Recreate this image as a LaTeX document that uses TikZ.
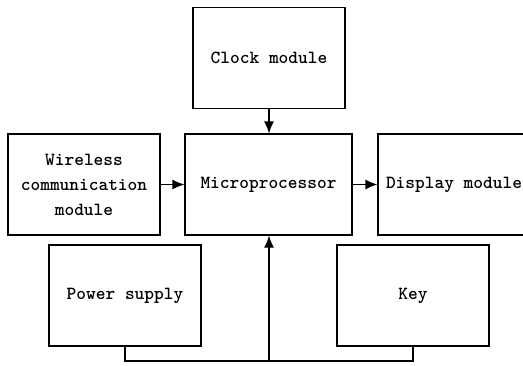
\documentclass[tikz,border=0pt]{standalone}
\usetikzlibrary{arrows.meta}
\tikzset{
	blk/.style={draw, line width=1.2pt, minimum width=152pt, minimum height=101pt, align=center, inner sep=0pt,
		font=\ttfamily\bfseries\fontsize{18.5}{25}\selectfont},
	arr/.style={line width=1.2pt, -{Latex[length=12pt,width=10pt]}}
}
\begin{document}
\begin{tikzpicture}[x=1pt,y=-1pt]
			%%%%% START %%%%%
			\useasboundingbox (0,0) rectangle (523,365);
			
			\node[blk] (clock) at (269, 58) {Clock module};
			\node[blk] (wireless) at (84, 184.5) {Wireless\\communication\\module};
			\node[blk, minimum width=167pt] (micro) at (268.5, 184.5) {Microprocessor};
			\node[blk] (display) at (454, 184.5) {Display module};
			\node[blk] (power) at (125, 295.5) {Power supply};
			\node[blk] (key) at (413, 295.5) {Key};
			
			\coordinate (bus) at (269, 361);
			
			\draw[arr] (clock.south) -- (clock.south |- micro.north);
			\draw[arr] (wireless.east) -- (micro.west);
			\draw[arr] (micro.east) -- (display.west);
			\draw[line width=1.2pt] (power.south) |- (bus) -| (key.south);
			\draw[arr] (bus) -- (bus |- micro.south);
			
			%%%%% END %%%%%
\end{tikzpicture}
\end{document}
